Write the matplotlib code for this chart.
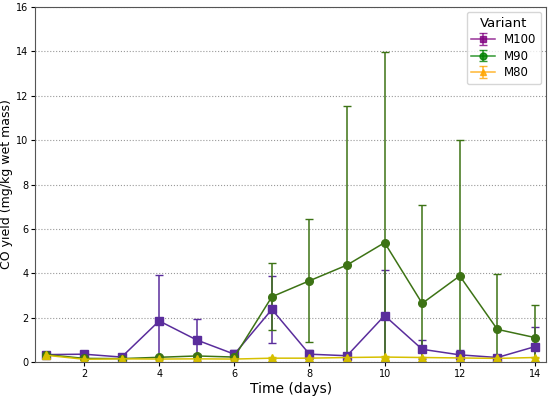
import matplotlib.pyplot as plt
import numpy as np

days = np.arange(1, 15)

m100 = [0.33, 0.35, 0.22, 1.85, 0.99, 0.35, 2.37, 0.35, 0.28, 2.09, 0.57, 0.32, 0.2, 0.69]
m100_err = [0.05, 0.05, 0.05, 2.05, 0.93, 0.2, 1.5, 0.2, 0.08, 2.05, 0.42, 0.22, 0.05, 0.87]

m90 = [0.33, 0.16, 0.15, 0.21, 0.27, 0.22, 2.94, 3.66, 4.37, 5.38, 2.64, 3.88, 1.47, 1.1]
m90_err = [0.05, 0.04, 0.04, 0.08, 0.08, 0.06, 1.5, 2.78, 7.17, 8.6, 4.43, 6.12, 2.5, 1.45]

m80 = [0.3, 0.12, 0.14, 0.13, 0.14, 0.13, 0.17, 0.17, 0.2, 0.22, 0.2, 0.18, 0.16, 0.2]
m80_err = [0.04, 0.03, 0.03, 0.03, 0.03, 0.03, 0.04, 0.04, 0.04, 0.05, 0.04, 0.04, 0.04, 0.04]

variants = ['M100', 'M90', 'M80']
legend_colors = ['purple', 'green', 'orange']
plot_colors = ['#5a2d9c', '#3d7315', '#d6c000']
markers = ['s', 'o', '^']

fig, ax = plt.subplots(figsize=(5.5, 3.96), dpi=100)
fig.subplots_adjust(left=0.064, right=0.993, top=0.982, bottom=0.086)

series = [(m100, m100_err), (m90, m90_err), (m80, m80_err)]
for (vals, errs), c, m in zip(series, plot_colors, markers):
    ax.errorbar(days, vals, yerr=errs, color=c, marker=m, markersize=5.5,
                linewidth=1.1, elinewidth=1.1, capsize=3)

# legend proxies in the pure colours
handles = []
for name, c, m in zip(variants, legend_colors, markers):
    h = ax.errorbar([np.nan], [np.nan], yerr=[np.nan], color=c, marker=m,
                    markersize=5, linewidth=1.1, capsize=3, label=name, alpha=0.8)
    handles.append(h)

ax.set_xlim(0.7, 14.3)
ax.set_ylim(0, 16)
ax.set_xticks(range(2, 15, 2))
ax.set_yticks(range(0, 17, 2))
ax.tick_params(labelsize=7, length=3, pad=2)
ax.grid(axis='y', linestyle=':', color='#999999', linewidth=0.8)
for s in ax.spines.values():
    s.set_color('#555555')

ax.set_xlabel('Time (days)', fontsize=10, labelpad=2)
ax.set_ylabel('CO yield (mg/kg wet mass)', fontsize=9, labelpad=2)
ax.legend(handles=handles, title='Variant', loc='upper right', fontsize=8.5,
          title_fontsize=9.5, labelspacing=0.3, borderaxespad=0.4)

fig.savefig('out.png')
